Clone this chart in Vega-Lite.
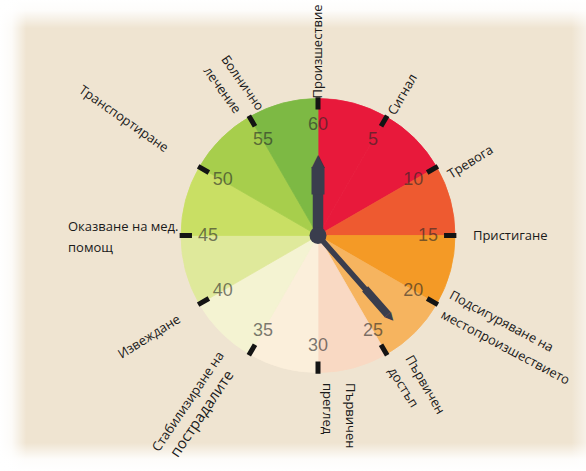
{
  "$schema": "https://vega.github.io/schema/vega-lite/v6.json",
  "width": 586,
  "height": 471,
  "autosize": {"type": "none"},
  "padding": 0,
  "background": "#efe4d1",
  "config": {"view": {"stroke": null}},
  "layer": [
    {
      "data": {"values": [{"bg": 0}]},
      "mark": {"type": "rect", "fill": "#efe4d1"},
      "encoding": {}
    },
    {
      "data": {"values": [{"bg": 1}]},
      "mark": {"type": "rect", "fill": {"gradient": "linear", "x1": 0, "y1": 0, "x2": 0, "y2": 1, "stops": [
        {"offset": 0, "color": "rgba(255,255,255,1)"},
        {"offset": 0.022, "color": "rgba(255,255,255,0.9)"},
        {"offset": 0.06, "color": "rgba(255,255,255,0)"},
        {"offset": 0.94, "color": "rgba(255,255,255,0)"},
        {"offset": 0.975, "color": "rgba(255,255,255,0.9)"},
        {"offset": 1, "color": "rgba(255,255,255,1)"}
      ]}},
      "encoding": {}
    },
    {
      "data": {"values": [{"bg": 2}]},
      "mark": {"type": "rect", "fill": {"gradient": "linear", "x1": 0, "y1": 0, "x2": 1, "y2": 0, "stops": [
        {"offset": 0, "color": "rgba(255,255,255,1)"},
        {"offset": 0.02, "color": "rgba(255,255,255,0.85)"},
        {"offset": 0.045, "color": "rgba(255,255,255,0)"},
        {"offset": 0.975, "color": "rgba(255,255,255,0)"},
        {"offset": 1, "color": "rgba(255,255,255,0.5)"}
      ]}},
      "encoding": {}
    },
    {
      "data": {"values": [
        {"s": 0, "e": 5}, {"s": 5, "e": 10}, {"s": 10, "e": 15}, {"s": 15, "e": 20},
        {"s": 20, "e": 25}, {"s": 25, "e": 30}, {"s": 30, "e": 35}, {"s": 35, "e": 40},
        {"s": 40, "e": 45}, {"s": 45, "e": 50}, {"s": 50, "e": 55}, {"s": 55, "e": 60}
      ]},
      "mark": {"type": "arc", "strokeWidth": 0.8},
      "encoding": {
        "x": {"datum": 0, "type": "quantitative", "scale": {"domain": [-1.1866, 1], "nice": false, "zero": false}, "axis": null},
        "y": {"datum": 0, "type": "quantitative", "scale": {"domain": [-1, 1], "nice": false, "zero": false}, "axis": null},
        "theta": {"field": "s", "type": "quantitative", "stack": null, "scale": {"domain": [0, 60], "range": [0, 6.283185307179586]}},
        "theta2": {"field": "e"},
        "radius": {"datum": 1, "type": "quantitative", "scale": {"type": "linear", "domain": [0, 1], "range": [0, 137]}},
        "fill": {"field": "s", "type": "ordinal", "legend": null, "scale": {
          "domain": [0, 5, 10, 15, 20, 25, 30, 35, 40, 45, 50, 55],
          "range": ["#e8193b", "#e8193b", "#ee5a30", "#f49a26", "#f6b45f", "#f9d9c3", "#fbefdb", "#f4f3d2", "#dfe99b", "#c9df64", "#a7ce4c", "#7db944"]
        }},
        "stroke": {"field": "s", "type": "ordinal", "legend": null, "scale": {
          "domain": [0, 5, 10, 15, 20, 25, 30, 35, 40, 45, 50, 55],
          "range": ["#e8193b", "#e8193b", "#ee5a30", "#f49a26", "#f6b45f", "#f9d9c3", "#fbefdb", "#f4f3d2", "#dfe99b", "#c9df64", "#a7ce4c", "#7db944"]
        }}
      }
    },
    {
      "data": {"values": [
        {"m": 0}, {"m": 5}, {"m": 10}, {"m": 15}, {"m": 20}, {"m": 25},
        {"m": 30}, {"m": 35}, {"m": 40}, {"m": 45}, {"m": 50}, {"m": 55}
      ]},
      "mark": {"type": "arc", "filled": false, "stroke": "#141414", "strokeWidth": 5, "strokeJoin": "miter"},
      "encoding": {
        "x": {"datum": 0, "type": "quantitative"},
        "y": {"datum": 0, "type": "quantitative"},
        "theta": {"field": "m", "type": "quantitative", "stack": null, "scale": {"domain": [0, 60], "range": [0, 6.283185307179586]}},
        "theta2": {"field": "m"},
        "radius": {"datum": 1.01, "type": "quantitative", "scale": {"type": "linear", "domain": [0, 1], "range": [0, 137]}},
        "radius2": {"datum": 0.92}
      }
    },
    {
      "data": {"values": [
        {"m": 0, "lab": "60"}, {"m": 5, "lab": "5"}, {"m": 10, "lab": "10"}, {"m": 15, "lab": "15"},
        {"m": 20, "lab": "20"}, {"m": 25, "lab": "25"}, {"m": 30, "lab": "30"}, {"m": 35, "lab": "35"},
        {"m": 40, "lab": "40"}, {"m": 45, "lab": "45"}, {"m": 50, "lab": "50"}, {"m": 55, "lab": "55"}
      ]},
      "mark": {"type": "text", "align": "center", "baseline": "middle", "font": "Liberation Sans", "fontSize": 18, "fill": "#262626", "fillOpacity": 0.6},
      "encoding": {
        "x": {"datum": 0, "type": "quantitative"},
        "y": {"datum": 0, "type": "quantitative"},
        "theta": {"field": "m", "type": "quantitative", "stack": null, "scale": {"domain": [0, 60], "range": [0, 6.283185307179586]}},
        "radius": {"datum": 0.803, "type": "quantitative", "scale": {"type": "linear", "domain": [0, 1], "range": [0, 137]}},
        "text": {"field": "lab"}
      }
    },
    {
      "data": {"values": [{"hand": "hour", "m": 0, "r0": 0, "r1": 0.5}]},
      "mark": {"type": "arc", "fill": "#3a3d4d", "stroke": "#3a3d4d", "strokeWidth": 10.5, "strokeJoin": "miter"},
      "encoding": {
        "x": {"datum": 0, "type": "quantitative"},
        "y": {"datum": 0, "type": "quantitative"},
        "theta": {"field": "m", "type": "quantitative", "stack": null, "scale": {"domain": [0, 60], "range": [0, 6.283185307179586]}},
        "theta2": {"field": "m"},
        "radius": {"field": "r1", "type": "quantitative", "scale": {"type": "linear", "domain": [0, 1], "range": [0, 137]}},
        "radius2": {"field": "r0"}
      }
    },
    {
      "data": {"values": [{"hand": "hour", "m": 0, "r0": 0.3, "r1": 0.5}]},
      "mark": {"type": "arc", "fill": "#3a3d4d", "stroke": "#3a3d4d", "strokeWidth": 13, "strokeJoin": "miter"},
      "encoding": {
        "x": {"datum": 0, "type": "quantitative"},
        "y": {"datum": 0, "type": "quantitative"},
        "theta": {"field": "m", "type": "quantitative", "stack": null, "scale": {"domain": [0, 60], "range": [0, 6.283185307179586]}},
        "theta2": {"field": "m"},
        "radius": {"field": "r1", "type": "quantitative", "scale": {"type": "linear", "domain": [0, 1], "range": [0, 137]}},
        "radius2": {"field": "r0"}
      }
    },
    {
      "data": {"values": [{"hand": "minute", "m": 23.1, "r0": 0, "r1": 0.76}]},
      "mark": {"type": "arc", "fill": "#3a3d4d", "stroke": "#3a3d4d", "strokeWidth": 5.5, "strokeJoin": "miter"},
      "encoding": {
        "x": {"datum": 0, "type": "quantitative"},
        "y": {"datum": 0, "type": "quantitative"},
        "theta": {"field": "m", "type": "quantitative", "stack": null, "scale": {"domain": [0, 60], "range": [0, 6.283185307179586]}},
        "theta2": {"field": "m"},
        "radius": {"field": "r1", "type": "quantitative", "scale": {"type": "linear", "domain": [0, 1], "range": [0, 137]}},
        "radius2": {"field": "r0"}
      }
    },
    {
      "data": {"values": [{"hand": "minute", "m": 23.1, "r0": 0.52, "r1": 0.77}]},
      "mark": {"type": "arc", "fill": "#3a3d4d", "stroke": "#3a3d4d", "strokeWidth": 8, "strokeJoin": "miter"},
      "encoding": {
        "x": {"datum": 0, "type": "quantitative"},
        "y": {"datum": 0, "type": "quantitative"},
        "theta": {"field": "m", "type": "quantitative", "stack": null, "scale": {"domain": [0, 60], "range": [0, 6.283185307179586]}},
        "theta2": {"field": "m"},
        "radius": {"field": "r1", "type": "quantitative", "scale": {"type": "linear", "domain": [0, 1], "range": [0, 137]}},
        "radius2": {"field": "r0"}
      }
    },
    {
      "data": {"values": [{"hand": "hour", "m": 0, "tip": 0.545, "rot": 0}]},
      "mark": {"type": "text", "text": "▲", "font": "DejaVu Sans", "fontSize": 17, "align": "center", "baseline": "middle", "fill": "#3a3d4d"},
      "encoding": {
        "x": {"datum": 0, "type": "quantitative"},
        "y": {"datum": 0, "type": "quantitative"},
        "theta": {"field": "m", "type": "quantitative", "stack": null, "scale": {"domain": [0, 60], "range": [0, 6.283185307179586]}},
        "radius": {"field": "tip", "type": "quantitative", "scale": {"type": "linear", "domain": [0, 1], "range": [0, 137]}},
        "angle": {"field": "rot", "type": "quantitative", "scale": null}
      }
    },
    {
      "data": {"values": [{"hand": "minute", "m": 23.1, "tip": 0.8, "rot": 138.6}]},
      "mark": {"type": "text", "text": "▲", "font": "DejaVu Sans", "fontSize": 11, "align": "center", "baseline": "middle", "fill": "#3a3d4d"},
      "encoding": {
        "x": {"datum": 0, "type": "quantitative"},
        "y": {"datum": 0, "type": "quantitative"},
        "theta": {"field": "m", "type": "quantitative", "stack": null, "scale": {"domain": [0, 60], "range": [0, 6.283185307179586]}},
        "radius": {"field": "tip", "type": "quantitative", "scale": {"type": "linear", "domain": [0, 1], "range": [0, 137]}},
        "angle": {"field": "rot", "type": "quantitative", "scale": null}
      }
    },
    {
      "data": {"values": [{"hub": 1}]},
      "mark": {"type": "arc", "fill": "#3a3d4d", "stroke": null},
      "encoding": {
        "x": {"datum": 0, "type": "quantitative"},
        "y": {"datum": 0, "type": "quantitative"},
        "theta": {"datum": 0, "type": "quantitative", "stack": null, "scale": {"domain": [0, 60], "range": [0, 6.283185307179586]}},
        "theta2": {"datum": 60},
        "radius": {"datum": 0.062, "type": "quantitative", "scale": {"type": "linear", "domain": [0, 1], "range": [0, 137]}}
      }
    },
    {
      "data": {"values": [
        {"t": 0, "r": 1.0, "rot": -90, "txt": "Произшествие"},
        {"t": 5.2, "r": 1.037, "rot": -60, "txt": "Сигнал"},
        {"t": 10.9, "r": 1.052, "rot": -32, "txt": "Тревога"},
        {"t": 15, "r": 1.131, "rot": 0, "txt": "Пристигане"},
        {"t": 19.0, "r": 1.057, "rot": 28, "txt": "Подсигуряване на"},
        {"t": 20.39, "r": 1.07, "rot": 28, "txt": "местопроизшествието"},
        {"t": 23.87, "r": 1.102, "rot": 60, "txt": "Първичен"},
        {"t": 25.2, "r": 1.109, "rot": 58, "txt": "достъп"},
        {"t": 27.99, "r": 1.101, "rot": 90, "txt": "Първичен"},
        {"t": 29.42, "r": 1.079, "rot": 90, "txt": "преглед"},
        {"t": 45.33, "r": 1.826, "rot": 0, "txt": "Оказване на  мед."},
        {"t": 44.52, "r": 1.827, "rot": 0, "txt": "помощ"}
      ]},
      "mark": {"type": "text", "align": "left", "baseline": "middle", "font": "Open Sans", "fontSize": 13, "fill": "#1a1a1a"},
      "encoding": {
        "x": {"datum": 0, "type": "quantitative"},
        "y": {"datum": 0, "type": "quantitative"},
        "theta": {"field": "t", "type": "quantitative", "stack": null, "scale": {"domain": [0, 60], "range": [0, 6.283185307179586]}},
        "radius": {"field": "r", "type": "quantitative", "scale": {"type": "linear", "domain": [0, 1], "range": [0, 137]}},
        "angle": {"field": "rot", "type": "quantitative", "scale": null},
        "text": {"field": "txt"}
      }
    },
    {
      "data": {"values": [
        {"t": 36.58, "r": 1.112, "rot": -56, "txt": "Стабилизиране на"},
        {"t": 39.87, "r": 1.179, "rot": -32, "txt": "Извеждане"},
        {"t": 49.95, "r": 1.27, "rot": 35, "txt": "Транспортиране"},
        {"t": 55.93, "r": 1.014, "rot": 55, "txt": "Болнично"},
        {"t": 54.5, "r": 1.075, "rot": 54, "txt": "лечение"}
      ]},
      "mark": {"type": "text", "align": "right", "baseline": "middle", "font": "Open Sans", "fontSize": 13, "fill": "#1a1a1a"},
      "encoding": {
        "x": {"datum": 0, "type": "quantitative"},
        "y": {"datum": 0, "type": "quantitative"},
        "theta": {"field": "t", "type": "quantitative", "stack": null, "scale": {"domain": [0, 60], "range": [0, 6.283185307179586]}},
        "radius": {"field": "r", "type": "quantitative", "scale": {"type": "linear", "domain": [0, 1], "range": [0, 137]}},
        "angle": {"field": "rot", "type": "quantitative", "scale": null},
        "text": {"field": "txt"}
      }
    },
    {
      "data": {"values": [
        {"t": 35.47, "r": 1.185, "rot": -56, "txt": "пострадалите"}
      ]},
      "mark": {"type": "text", "align": "right", "baseline": "middle", "font": "Open Sans", "fontSize": 15, "fill": "#1a1a1a"},
      "encoding": {
        "x": {"datum": 0, "type": "quantitative"},
        "y": {"datum": 0, "type": "quantitative"},
        "theta": {"field": "t", "type": "quantitative", "stack": null, "scale": {"domain": [0, 60], "range": [0, 6.283185307179586]}},
        "radius": {"field": "r", "type": "quantitative", "scale": {"type": "linear", "domain": [0, 1], "range": [0, 137]}},
        "angle": {"field": "rot", "type": "quantitative", "scale": null},
        "text": {"field": "txt"}
      }
    }
  ]
}
